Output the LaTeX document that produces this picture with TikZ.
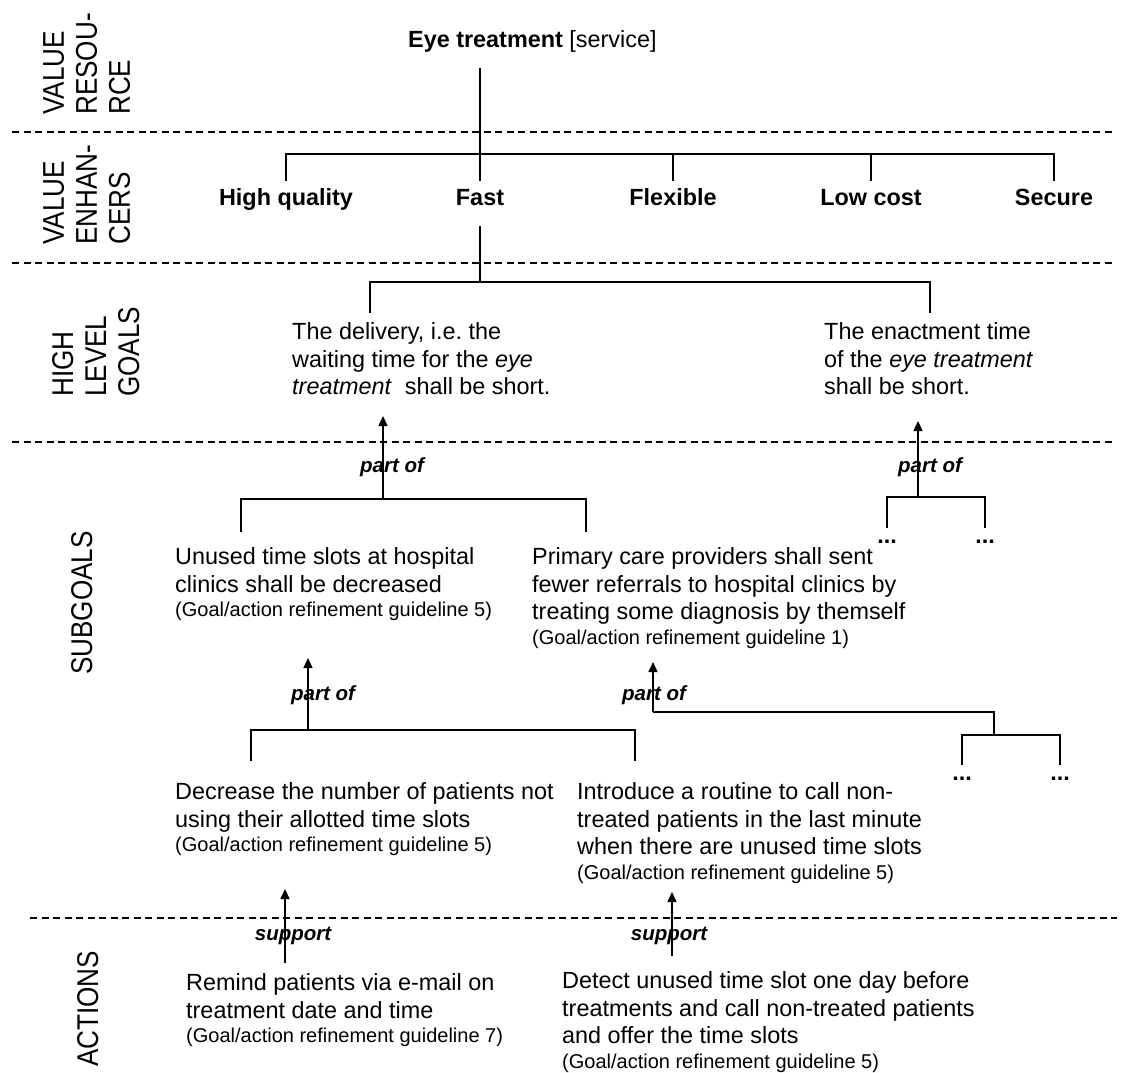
\documentclass[tikz,border=0pt]{standalone}
\usepackage{fontspec}
\setmainfont{Liberation Sans}
\newfontfamily\layerfont[FakeStretch=0.87]{Liberation Sans}
\usetikzlibrary{arrows.meta}

\newcommand{\txtsize}{\fontsize{23.4}{27.5}\selectfont}
\newcommand{\refsize}{\fontsize{20}{25}\selectfont}
\newcommand{\guideline}[1]{{\refsize (Goal/action refinement guideline #1)}}

\tikzset{
    separator/.style={dash pattern=on 7pt off 4.5pt, line width=1.2pt},
    branch/.style={line width=1.3pt},
    relation/.style={-{Triangle[length=10pt,width=9pt]}, line width=1.5pt},
    layer name/.style={rotate=90, anchor=north west, align=left, inner sep=0pt, font=\layerfont\fontsize{30}{33}\selectfont},
    enhancer/.style={anchor=base, font=\txtsize\bfseries, text height=17pt, text depth=14pt, inner xsep=0pt, inner ysep=7pt},
    goal/.style={anchor=north west, align=left, inner sep=0pt, font=\txtsize},
    rel label/.style={font=\fontsize{20.5}{24}\selectfont\bfseries\itshape, inner sep=0pt},
    more/.style={anchor=base, font=\txtsize\bfseries, inner sep=0pt, text height=15pt},
}

\begin{document}
\begin{tikzpicture}[x=1pt, y=-1pt]
    \useasboundingbox (0,0) rectangle (1122,1073);

    % layer separators and layer names
    \foreach \y in {132, 263, 442} {\draw[separator] (12,\y) -- (1112,\y);}
    \draw[separator] (30,918) -- (1117,918);
    \node[layer name] (resource) at (43,115) {VALUE\\RESOU-\\RCE};
    \node[layer name] (enhancers) at (43,245) {VALUE\\ENHAN-\\CERS};
    \node[layer name] (high level) at (52,397) {HIGH\\LEVEL\\GOALS};
    \node[layer name] (subgoals) at (71,675) {SUBGOALS};
    \node[layer name] (actions) at (77,1067) {ACTIONS};

    % value resource and its value enhancers
    \node[anchor=base west, inner xsep=0pt, inner ysep=7pt, text depth=13pt, font=\txtsize] (eye) at (408,48) {\textbf{Eye treatment} [service]};
    \node[enhancer] (quality) at (286,205) {High quality};
    \node[enhancer] (fast) at (480,205) {Fast};
    \node[enhancer] (flexible) at (673,205) {Flexible};
    \node[enhancer] (cost) at (871,205) {Low cost};
    \node[enhancer] (secure) at (1054,205) {Secure};
    \coordinate (enhancer bar) at (0,154);
    \draw[branch] (eye.south -| fast.north) -- (fast.north);
    \draw[branch] (quality.north) |- (secure.north |- enhancer bar) -- (secure.north);
    \foreach \n in {flexible, cost} {\draw[branch] (\n.north) -- (\n.north |- enhancer bar);}

    % high level goals of "fast"
    \node[goal] (delivery) at (292,322.5) {The delivery, i.e.\ the\\waiting time for the \textit{eye}\\\textit{treatment}\ \ shall be short.};
    \node[goal] (enactment) at (824,322.5) {The enactment time\\of the \textit{eye treatment}\\shall be short.};
    \coordinate (goal bar) at (0,282);
    \coordinate (delivery top) at (370,313);
    \coordinate (enactment top) at (930,313);
    \draw[branch] (fast.south) -- (fast.south |- goal bar);
    \draw[branch] (delivery top) |- (enactment top |- goal bar) -- (enactment top);

    % subgoals of the delivery
    \node[goal] (unused) at (175,547.5) {Unused time slots at hospital\\clinics shall be decreased\\[-3pt]\guideline{5}};
    \node[goal] (referrals) at (532,547.5) {Primary care providers shall sent\\fewer referrals to hospital clinics by\\treating some diagnosis by themself\\[-3pt]\guideline{1}};
    \coordinate (unused top) at (241,532);
    \coordinate (referrals top) at (586,532);
    \coordinate (delivery bar) at (383,499);
    \coordinate (delivery in) at (383,416);
    \draw[branch] (unused top) |- (referrals top |- delivery bar) -- (referrals top);
    \draw[relation] (delivery bar) -- (delivery in);
    \node[rel label] (delivery part) at (392,467) {part of};

    % subgoals of the enactment
    \node[more] (more a) at (887,543) {...};
    \node[more] (more b) at (985,543) {...};
    \coordinate (enactment bar) at (918,497);
    \coordinate (enactment in) at (918,421);
    \draw[branch] (more a.north) |- (more b.north |- enactment bar) -- (more b.north);
    \draw[relation] (enactment bar) -- (enactment in);
    \node[rel label] (enactment part) at (930,467) {part of};

    % subgoals of the unused time slots
    \node[goal] (decrease) at (175,782.5) {Decrease the number of patients not\\using their allotted time slots\\[-3pt]\guideline{5}};
    \node[goal] (routine) at (577,782.5) {Introduce a routine to call non-\\treated patients in the last minute\\when there are unused time slots\\[-3pt]\guideline{5}};
    \coordinate (decrease top) at (251,761);
    \coordinate (routine top) at (635,761);
    \coordinate (unused bar) at (308,730);
    \coordinate (unused in) at (308,658);
    \draw[branch] (decrease top) |- (routine top |- unused bar) -- (routine top);
    \draw[relation] (unused bar) -- (unused in);
    \node[rel label] (unused part) at (323,695) {part of};

    % subgoals of the referrals
    \node[more] (more c) at (962,780) {...};
    \node[more] (more d) at (1060,780) {...};
    \coordinate (referrals bar) at (653,712);
    \coordinate (referrals in) at (653,662);
    \coordinate (more bar) at (994,735);
    \draw[branch] (referrals bar) -| (more bar);
    \draw[branch] (more c.north) |- (more d.north |- more bar) -- (more d.north);
    \draw[relation] (referrals bar) -- (referrals in);
    \node[rel label] (referrals part) at (654,695) {part of};

    % actions
    \node[goal] (remind) at (186,973.5) {Remind patients via e-mail on\\treatment date and time\\[-3pt]\guideline{7}};
    \node[goal] (detect) at (562,971.5) {Detect unused time slot one day before\\treatments and call non-treated patients\\and offer the time slots\\[-3pt]\guideline{5}};
    \coordinate (remind top) at (285,963);
    \coordinate (decrease in) at (285,889);
    \coordinate (detect top) at (672,956);
    \coordinate (routine in) at (672,892);
    \draw[relation] (remind top) -- (decrease in);
    \draw[relation] (detect top) -- (routine in);
    \node[rel label] (remind support) at (293,936) {support};
    \node[rel label] (detect support) at (669,936) {support};

\end{tikzpicture}
\end{document}
